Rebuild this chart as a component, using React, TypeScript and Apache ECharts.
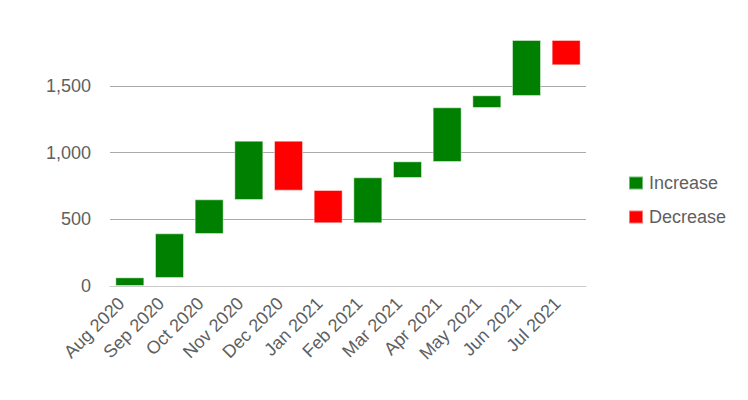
import React, { useEffect, useRef } from "react";
import * as echarts from "echarts";

const months = [
  "Aug 2020", "Sep 2020", "Oct 2020", "Nov 2020", "Dec 2020", "Jan 2021",
  "Feb 2021", "Mar 2021", "Apr 2021", "May 2021", "Jun 2021", "Jul 2021",
];
const opens = [0, 60, 390, 645, 1090, 720, 470, 810, 930, 1335, 1425, 1845];
const closes = [65, 395, 650, 1090, 715, 470, 815, 935, 1340, 1430, 1845, 1655];
const yMax = 1850;
const yInterval = 500;

const FONT = "'Liberation Sans', Arial, Helvetica, sans-serif";

export default function App() {
  const ref = useRef<HTMLDivElement>(null);

  useEffect(() => {
    document.body.style.margin = "0";
    if (!ref.current) return;
    const chart = echarts.init(ref.current, undefined, { renderer: "svg" });

    const base = opens.map((o, i) => Math.min(o, closes[i]));
    const inc = opens.map((o, i) => (closes[i] >= o ? closes[i] - o : "-"));
    const dec = opens.map((o, i) => (closes[i] < o ? o - closes[i] : "-"));

    chart.setOption({
      animation: false,
      textStyle: { fontFamily: FONT },
      grid: { left: 110, right: 162, top: 39.3, bottom: 114 },
      legend: {
        orient: "vertical",
        left: 623,
        top: 169,
        itemWidth: 14,
        itemHeight: 13,
        itemGap: 16,
        icon: "rect",
        textStyle: { fontSize: 18, color: "#5f5f5f", fontFamily: FONT, padding: [0, 0, 0, 1] },
        data: ["Increase", "Decrease"],
      },
      xAxis: {
        type: "category",
        data: months,
        axisLine: { lineStyle: { color: "#ccc", width: 1 } },
        axisTick: { alignWithLabel: true, length: 5, lineStyle: { color: "#bbb" } },
        axisLabel: {
          rotate: 45,
          fontSize: 18,
          color: "#5f5f5f",
          fontFamily: FONT,
          margin: 6,
          padding: [0, 12, 0, 0],
          interval: 0,
        },
      },
      yAxis: {
        type: "value",
        min: 0,
        max: yMax,
        interval: yInterval,
        axisLine: { show: false },
        axisTick: { show: false },
        axisLabel: {
          fontSize: 18,
          color: "#5f5f5f",
          fontFamily: FONT,
          margin: 19,
          showMaxLabel: false,
          formatter: (v: number) => v.toLocaleString("en-US"),
        },
        splitLine: {
          showMaxLine: false,
          lineStyle: { color: "#aaa", width: 1 },
        },
      },
      series: [
        {
          name: "base",
          type: "bar",
          stack: "w",
          data: base,
          itemStyle: { color: "transparent" },
          barWidth: 29,
          silent: true,
        },
        {
          name: "Increase",
          type: "bar",
          stack: "w",
          data: inc,
          barWidth: 29,
          itemStyle: {
            color: "#008000",
            borderColor: "rgba(255,255,255,0.45)",
            borderWidth: 1,
          },
        },
        {
          name: "Decrease",
          type: "bar",
          stack: "w",
          data: dec,
          barWidth: 29,
          itemStyle: {
            color: "#ff0000",
            borderColor: "rgba(255,255,255,0.45)",
            borderWidth: 1,
          },
        },
      ],
    });

    return () => chart.dispose();
  }, []);

  return <div ref={ref} style={{ width: 748, height: 400 }} />;
}
